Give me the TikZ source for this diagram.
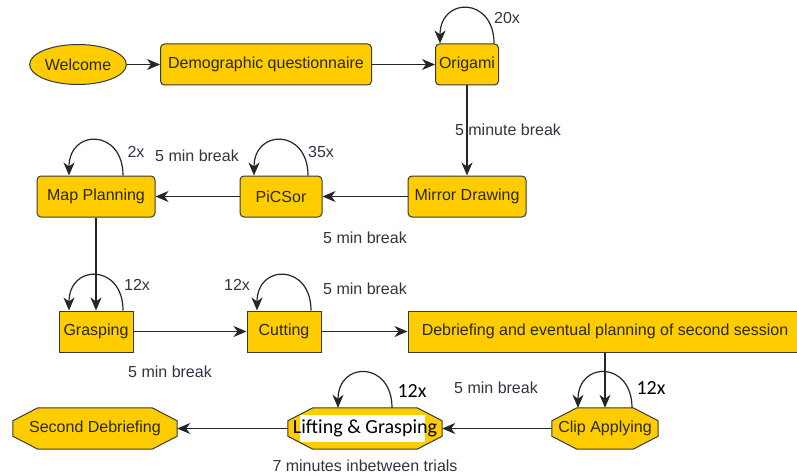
\documentclass[tikz,border=0pt]{standalone}
\usepackage{fontspec}
\setmainfont{Liberation Sans}
\newfontfamily\calib{Carlito}
\usetikzlibrary{arrows.meta,shapes.geometric,backgrounds}
\definecolor{gold}{HTML}{FFCC00}
\definecolor{edgec}{HTML}{36393D}
\definecolor{ntext}{HTML}{2A2A00}
\definecolor{ltext}{HTML}{333344}
\begin{document}
\begin{tikzpicture}[x=1pt,y=-1pt,
  every node/.style={font=\fontsize{16}{18}\selectfont},
  box/.style={draw=edgec, fill=gold, line width=1pt, text=ntext, minimum height=41pt, inner sep=1pt},
  rbox/.style={box, rounded corners=4pt},
  ell/.style={box, ellipse, minimum width=83pt, minimum height=40pt},
  octo/.style={text=ntext, minimum height=41pt, inner sep=1pt},
  octoshape/.style={draw=edgec, fill=gold, line width=1pt},
  lbl/.style={text=ltext, inner sep=0pt},
  clbl/.style={text=black, inner sep=0pt, font=\calib\fontsize{20}{22}\selectfont},
  conn/.style={draw=black!85, line width=1.2pt, -{Stealth[length=13pt,width=11pt,inset=4pt]}},
]
\useasboundingbox (0,0) rectangle (797,476);

% nodes
\node[ell] (welcome) at (78,64.5) {Welcome};
\node[rbox, minimum width=211pt] (demo) at (266,64.5) {Demographic questionnaire};
\node[rbox, minimum width=63pt] (origami) at (467,64.5) {Origami};
\node[rbox, minimum width=118pt] (mirror) at (467,196.5) {Mirror Drawing};
\node[rbox, minimum width=82pt] (picsor) at (281,196.5) {PiCSor};
\node[rbox, minimum width=118pt] (map) at (96,196.5) {Map Planning};
\node[box, minimum width=74pt] (grasp) at (96,331.5) {Grasping};
\node[box, minimum width=74pt] (cut) at (284,331.5) {Cutting};
\node[box, minimum width=394pt] (debrief) at (605,331.5) {Debriefing and eventual planning of second session};
\node[octo, minimum width=106pt] (clip) at (605,428.5) {Clip Applying};
\node[octo, minimum width=154pt, text=black, font=\calib\fontsize{20}{22}\selectfont] (lift) at (365,428.5) {Lifting \& Grasping};
\node[octo, minimum width=164pt] (second) at (95,428.5) {Second Debriefing};

% octagon backgrounds
\begin{scope}[on background layer]
  \fill[white] (0,0) rectangle (797,476);
  \foreach \n in {clip,lift,second}{
    \draw[octoshape] ([xshift=25pt]\n.north west) -- ([xshift=-25pt]\n.north east)
      -- ([yshift=-13pt]\n.north east) -- ([yshift=13pt]\n.south east)
      -- ([xshift=-25pt]\n.south east) -- ([xshift=25pt]\n.south west)
      -- ([yshift=13pt]\n.south west) -- ([yshift=-13pt]\n.north west) -- cycle;
  }
  \fill[white] ([xshift=-65pt,yshift=-13.5pt]lift.center) rectangle ([xshift=60pt,yshift=13.5pt]lift.center);
\end{scope}

% connectors
\draw[conn] (welcome) -- (demo);
\draw[conn] (demo) -- (origami);
\draw[conn] (origami) -- (mirror);
\draw[conn] (mirror) -- (picsor);
\draw[conn] (picsor) -- (map);
\draw[conn] (map) -- (grasp);
\draw[conn] (grasp) -- (cut);
\draw[conn] (cut) -- (debrief);
\draw[conn] (debrief) -- (clip);
\draw[conn] (clip) -- (lift);
\draw[conn] (lift) -- (second);

% self loops
\foreach \n in {origami,picsor,map,grasp,cut,clip,lift}{
  \draw[conn] ([xshift=27pt]\n.north) .. controls +(0,-47) and +(0,-47) .. ([xshift=-27pt]\n.north);
}

% labels
\node[lbl] (l20) at (507,18) {20x};
\node[lbl] (lb1) at (508,130) {5 minute break};
\node[lbl] (l2) at (136,152) {2x};
\node[lbl] (lb2) at (197,156) {5 min break};
\node[lbl] (l35) at (321,152) {35x};
\node[lbl] (lb3) at (365,238) {5 min break};
\node[lbl] (l12a) at (137,285) {12x};
\node[lbl] (l12b) at (237,285) {12x};
\node[lbl] (lb4) at (365,289) {5 min break};
\node[lbl] (lb5) at (170,372) {5 min break};
\node[lbl] (lb6) at (496,388) {5 min break};
\node[clbl] (l12c) at (651,388) {12x};
\node[clbl] (l12d) at (412,391) {12x};
\node[lbl] (lb7) at (365,466) {7 minutes inbetween trials};
\end{tikzpicture}
\end{document}
